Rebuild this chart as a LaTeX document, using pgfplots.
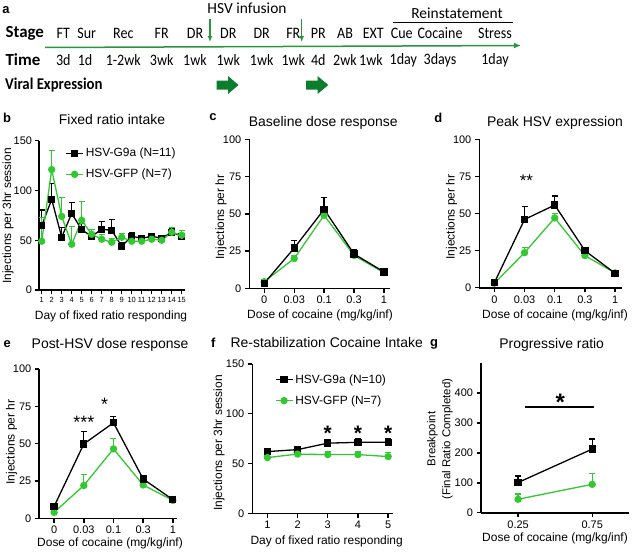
\documentclass[border=0pt]{standalone}
\usepackage{fontspec}
\setmainfont{Liberation Sans}
\newfontfamily\calfont{Carlito}
\usepackage{pgfplots}
\pgfplotsset{compat=1.18}
\usetikzlibrary{arrows.meta}
\definecolor{gfp}{RGB}{50,200,50}
\definecolor{dkgreen}{RGB}{12,125,45}
\definecolor{lngreen}{RGB}{40,150,60}
\newcommand{\fsz}[1]{\fontsize{#1}{#1}\selectfont}

\pgfplotsset{
 prism/.style={scale only axis, anchor=south west,
   axis x line*=bottom, axis y line*=left,
   axis line style={line width=1.6bp},
   tick align=outside, major tick length=4.5bp,
   every tick/.style={line width=1.4bp, black},
   tick label style={font=\fsz{11}},
   /pgf/number format/assume math mode=true,
   clip=false, ymin=0},
 g9a/.style={black, line width=1.3bp, mark=square*, mark size=3bp,
   error bars/y dir=plus, error bars/y explicit,
   error bars/error bar style={line width=1.3bp},
   error bars/error mark options={line width=1.3bp, mark size=3bp, rotate=90}},
 gfpst/.style={gfp, line width=1.3bp, mark=*, mark size=3bp,
   error bars/y dir=plus, error bars/y explicit,
   error bars/error bar style={line width=1.3bp},
   error bars/error mark options={line width=1.3bp, mark size=3bp, rotate=90}},
}

\pgfplotstableread{
x y e
1 64.5 16
2 91 16
3 53 10
4 77 11
5 60.5 6
6 54 3
7 61 8
8 60 11
9 44 4
10 54 4
11 52 3
12 54 3
13 52 3
14 58 4
15 54 3
}\bGnine
\pgfplotstableread{
x y e
1 49 24
2 121 19
3 74 19
4 46 18
5 70 19
6 56 5
7 51 5
8 48 4
9 53 4
10 49 3
11 49 3
12 51 3
13 50 4
14 58 5
15 55 5
}\bGfp
\pgfplotstableread{
x y e
0 3.4 1
1 27 5
2 53 8
3 23 3
4 11 1
}\cGnine
\pgfplotstableread{
x y e
0 4.5 1
1 20 2
2 49 5
3 22 2
4 10.5 1
}\cGfp
\pgfplotstableread{
x y e
0 3.4 0.5
1 46 8.5
2 55.7 6
3 25 1.5
4 9.7 0.5
}\dGnine
\pgfplotstableread{
x y e
0 3 0.5
1 23.6 3.4
2 47 3
3 21.6 1
4 10 0.5
}\dGfp
\pgfplotstableread{
x y e
0 8 1
1 49.8 8.5
2 64 4.3
3 26.3 1
4 12.5 0.5
}\eGnine
\pgfplotstableread{
x y e
0 4 1
1 22 7.5
2 46.5 7
3 22.3 1
4 12 0.5
}\eGfp
\pgfplotstableread{
x y e
1 62 3
2 64 3
3 70.5 4
4 71.3 4
5 71.3 3.5
}\fGnine
\pgfplotstableread{
x y e
1 56 2.5
2 59.5 2.5
3 59 3
4 59 3
5 57 4
}\fGfp
\pgfplotstableread{
x y e
0 101 22
1 213 34
}\gGnine
\pgfplotstableread{
x y e
0 45 18
1 95 37
}\gGfp

\begin{document}
\begin{tikzpicture}
\useasboundingbox (0,0) rectangle (640bp,-553bp);

% ---------- panel a ----------
\node[font=\bfseries\fsz{13}] at (6bp,-10bp) {a};
\node[font=\calfont\fsz{15.5}] at (247bp,-8.5bp) {HSV infusion};
\node[font=\calfont\fsz{15.5}] at (457bp,-13bp) {Reinstatement};
\draw[line width=1bp] (393bp,-22.7bp) -- (513bp,-22.7bp);
\node[font=\calfont\bfseries\fsz{17}, anchor=west] at (2bp,-33.3bp) {Stage};
\node[font=\calfont\bfseries\fsz{17}, anchor=west] at (2bp,-60bp) {Time};
\node[font=\calfont\bfseries\fsz{16.5}, anchor=west, xscale=0.9] at (2bp,-85bp) {Viral Expression};
\foreach \x/\t in {63.3/FT,86.7/Sur,123.3/Rec,161.7/FR,195/DR,228.3/DR,261.7/DR,293.3/FR,318.3/PR,345/AB,373.3/EXT,401.7/Cue,440/Cocaine,495/Stress}
  \node[font=\calfont\fsz{16}, xscale=0.88] at (\x bp,-33.3bp) {\t};
\foreach \x/\t in {63.3/3d,85/1d,123.3/1-2wk,161.7/3wk,195/1wk,228.3/1wk,261.7/1wk,293.3/1wk,318.3/4d,345/2wk,371/1wk,403.3/1day,440/3days,495/1day}
  \node[font=\calfont\fsz{16}, xscale=0.88] at (\x bp,-60bp) {\t};
\draw[lngreen, line width=1.5bp, -{Latex[length=7bp,width=6bp]}] (45bp,-47.5bp) -- (521bp,-45.5bp);
\draw[lngreen, line width=1.3bp, -{Latex[length=6bp,width=5bp]}] (210bp,-19bp) -- (210bp,-42bp);
\draw[lngreen, line width=1.3bp, -{Latex[length=6bp,width=5bp]}] (301.7bp,-19bp) -- (301.7bp,-42bp);
\fill[dkgreen] (216.7bp,-80.5bp) -- (228bp,-80.5bp) -- (228bp,-76bp) -- (238.5bp,-85bp) -- (228bp,-94bp) -- (228bp,-89.5bp) -- (216.7bp,-89.5bp) -- cycle;
\fill[dkgreen] (306bp,-80.5bp) -- (317.5bp,-80.5bp) -- (317.5bp,-76bp) -- (328.3bp,-85bp) -- (317.5bp,-94bp) -- (317.5bp,-89.5bp) -- (306bp,-89.5bp) -- cycle;

% ---------- titles and letters ----------
\node[font=\bfseries\fsz{13}] at (7bp,-117.5bp) {b};
\node[font=\bfseries\fsz{13}] at (213bp,-117.5bp) {c};
\node[font=\bfseries\fsz{13}] at (438.3bp,-117.5bp) {d};
\node[font=\bfseries\fsz{13}] at (7.3bp,-344bp) {e};
\node[font=\bfseries\fsz{13}] at (213.3bp,-343bp) {f};
\node[font=\bfseries\fsz{13}] at (434bp,-344bp) {g};
\node[font=\fsz{14}] at (112bp,-120bp) {Fixed ratio intake};
\node[font=\fsz{14}] at (323.3bp,-122.7bp) {Baseline dose response};
\node[font=\fsz{14}] at (555bp,-122.7bp) {Peak HSV expression};
\node[font=\fsz{14}] at (110bp,-345bp) {Post-HSV dose response};
\node[font=\fsz{14}] at (326.7bp,-342.7bp) {Re-stabilization Cocaine Intake};
\node[font=\fsz{14}] at (551.7bp,-345bp) {Progressive ratio};

% ---------- axis labels ----------
\node[font=\fsz{12}] at (111bp,-316.7bp) {Day of fixed ratio responding};
\node[font=\fsz{12}] at (320bp,-315bp) {Dose of cocaine (mg/kg/inf)};
\node[font=\fsz{12}] at (555bp,-315bp) {Dose of cocaine (mg/kg/inf)};
\node[font=\fsz{12}] at (110bp,-543.3bp) {Dose of cocaine (mg/kg/inf)};
\node[font=\fsz{12}] at (326.7bp,-541.7bp) {Day of fixed ratio responding};
\node[font=\fsz{12}] at (555bp,-538.3bp) {Dose of cocaine (mg/kg/inf)};
\node[font=\fsz{12}, rotate=90] at (8bp,-216bp) {Injections per 3hr session};
\node[font=\fsz{12}, rotate=90] at (221bp,-217bp) {Injections per hr};
\node[font=\fsz{12}, rotate=90] at (451.5bp,-217bp) {Injections per hr};
\node[font=\fsz{12}, rotate=90] at (11.5bp,-442bp) {Injections per hr};
\node[font=\fsz{12}, rotate=90] at (219bp,-443bp) {Injections per 3hr session};
\node[font=\fontsize{11.5}{15}\selectfont, rotate=90, align=center] at (440bp,-439bp) {Breakpoint\\(Final Ratio Completed)};

% ---------- panel b ----------
\begin{axis}[prism, at={(39bp,-290bp)}, width=146bp, height=149.3bp,
  xmin=0.73, xmax=15.33, ymax=150, ytick={0,50,100,150}, xtick={1,...,15},
  xticklabel style={font=\fsz{7.5}}, major tick length=3.5bp,
  legend style={draw=none, fill=none, at={(0.18,0.965)}, anchor=north west, font=\fsz{12}, row sep=7bp, inner sep=0pt},
  legend cell align=left]
\addplot[g9a] table[x=x,y=y,y error=e] {\bGnine};
\addlegendentry{HSV-G9a (N=11)}
\addplot[gfpst] table[x=x,y=y,y error=e] {\bGfp};
\addlegendentry{HSV-GFP (N=7)}
\end{axis}

% ---------- panel c ----------
\begin{axis}[prism, at={(249.3bp,-288.3bp)}, width=140.7bp, height=149bp,
  xmin=-0.5, xmax=4.2, ymax=100, ytick={0,25,50,75,100},
  xtick={0,1,2,3,4}, xticklabels={0,0.03,0.1,0.3,1}]
\addplot[gfpst] table[x=x,y=y,y error=e] {\cGfp};
\addplot[g9a] table[x=x,y=y,y error=e] {\cGnine};
\end{axis}

% ---------- panel d ----------
\begin{axis}[prism, at={(479.3bp,-287.7bp)}, width=142.4bp, height=148.4bp,
  xmin=-0.5, xmax=4.22, ymax=100, ytick={0,25,50,75,100},
  xtick={0,1,2,3,4}, xticklabels={0,0.03,0.1,0.3,1}]
\addplot[gfpst] table[x=x,y=y,y error=e] {\dGfp};
\addplot[g9a] table[x=x,y=y,y error=e] {\dGnine};
\node[font=\fsz{17}] at (axis cs:1.06,72.3) {**};
\end{axis}

% ---------- panel e ----------
\begin{axis}[prism, at={(39.3bp,-518.3bp)}, width=138bp, height=149.3bp,
  xmin=-0.5, xmax=4.15, ymax=100, ytick={0,25,50,75,100},
  xtick={0,1,2,3,4}, xticklabels={0,0.03,0.1,0.3,1}]
\addplot[gfpst] table[x=x,y=y,y error=e] {\eGfp};
\addplot[g9a] table[x=x,y=y,y error=e] {\eGnine};
\node[font=\fsz{18}] at (axis cs:1,64.3) {***};
\node[font=\fsz{18}] at (axis cs:1.7,76.3) {*};
\end{axis}

% ---------- panel f ----------
\begin{axis}[prism, at={(252.3bp,-513.3bp)}, width=140.4bp, height=149.3bp,
  xmin=0.5, xmax=5.15, ymax=150, ytick={0,50,100,150}, xtick={1,2,3,4,5},
  legend style={draw=none, fill=none, at={(0.16,0.945)}, anchor=north west, font=\fsz{12}, row sep=7bp, inner sep=0pt},
  legend cell align=left]
\addplot[g9a] table[x=x,y=y,y error=e] {\fGnine};
\addlegendentry{HSV-G9a (N=10)}
\addplot[gfpst] table[x=x,y=y,y error=e] {\fGfp};
\addlegendentry{HSV-GFP (N=7)}
\node[font=\bfseries\fsz{21}] at (axis cs:3,80) {*};
\node[font=\bfseries\fsz{21}] at (axis cs:4,80) {*};
\node[font=\bfseries\fsz{21}] at (axis cs:5,80) {*};
\end{axis}

% ---------- panel g ----------
\begin{axis}[prism, at={(481bp,-512.7bp)}, width=148.3bp, height=149.4bp,
  xmin=-0.5, xmax=1.5, ymax=500, ytick={0,100,200,300,400},
  xtick={0,1}, xticklabels={0.25,0.75}]
\addplot[gfpst] table[x=x,y=y,y error=e] {\gGfp};
\addplot[g9a] table[x=x,y=y,y error=e] {\gGnine};
\draw[line width=1.6bp] (axis cs:0.087,353) -- (axis cs:1.02,353);
\node[font=\bfseries\fsz{24}] at (axis cs:0.57,368) {*};
\end{axis}
\end{tikzpicture}
\end{document}
